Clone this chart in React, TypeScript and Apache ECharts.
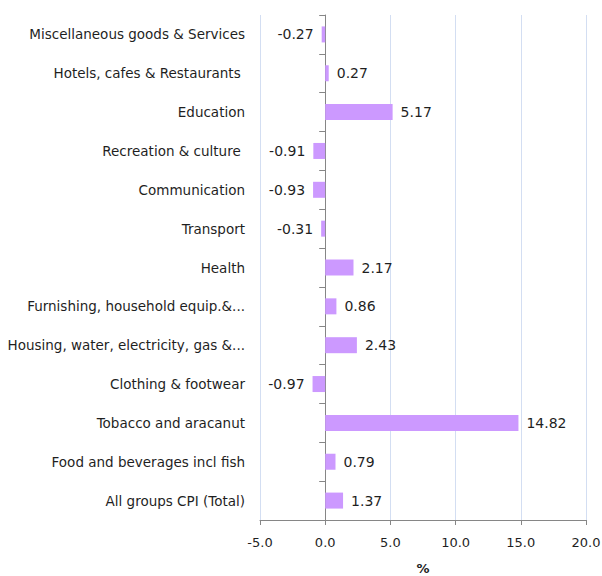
import React, { useEffect, useRef } from "react";
import * as echarts from "echarts";

const categories = [
  "Miscellaneous goods & Services",
  "Hotels, cafes & Restaurants ",
  "Education",
  "Recreation & culture ",
  "Communication",
  "Transport",
  "Health",
  "Furnishing, household equip.&...",
  "Housing, water, electricity, gas &...",
  "Clothing & footwear",
  "Tobacco and aracanut",
  "Food and beverages incl fish",
  "All groups CPI (Total)",
];
const values = [-0.27, 0.27, 5.17, -0.91, -0.93, -0.31, 2.17, 0.86, 2.43, -0.97, 14.82, 0.79, 1.37];
const xMin = -5;
const xMax = 20;
const xInterval = 5;

const FONT = "DejaVu Sans";
const TEXT = "#1f1f1f";

export default function App() {
  const ref = useRef<HTMLDivElement>(null);
  useEffect(() => {
    document.body.style.margin = "0";
    const chart = echarts.init(ref.current!, null, { renderer: "svg" });
    chart.setOption({
      animation: false,
      textStyle: { fontFamily: FONT },
      grid: { left: 260, right: 16, top: 15, bottom: 56, containLabel: false, outerBoundsMode: "none" },
      xAxis: {
        type: "value",
        min: xMin,
        max: xMax,
        interval: xInterval,
        name: "%",
        nameLocation: "middle",
        nameGap: 42,
        nameTextStyle: { fontWeight: "bold", fontSize: 13, color: TEXT, fontFamily: FONT },
        axisLine: { show: true, onZero: false, lineStyle: { color: "#868686", width: 1 } },
        axisTick: { show: true, length: 5, lineStyle: { color: "#868686" } },
        axisLabel: {
          color: TEXT,
          fontSize: 13,
          margin: 16,
          fontFamily: FONT,
          formatter: (v: number) => v.toFixed(1),
        },
        splitLine: { show: true, lineStyle: { color: "#d3def2", width: 1 } },
      },
      yAxis: {
        type: "category",
        data: categories,
        inverse: true,
        axisLine: { show: true, onZero: true, lineStyle: { color: "#868686", width: 1 } },
        axisTick: { show: true, length: 6, lineStyle: { color: "#868686" } },
        axisLabel: { color: TEXT, fontSize: 13.5, margin: 15, fontFamily: FONT },
      },
      series: [
        {
          type: "bar",
          data: values.map((v) => ({
            value: v,
            label: { position: v < 0 ? "left" : "right" },
          })),
          barWidth: 16,
          itemStyle: { color: "#cc99ff" },
          label: {
            show: true,
            distance: 8,
            color: TEXT,
            fontSize: 14,
            fontFamily: FONT,
            formatter: (p: any) => p.value.toFixed(2),
          },
        },
      ],
    });
    return () => chart.dispose();
  }, []);
  return <div ref={ref} style={{ width: 602, height: 576 }} />;
}
